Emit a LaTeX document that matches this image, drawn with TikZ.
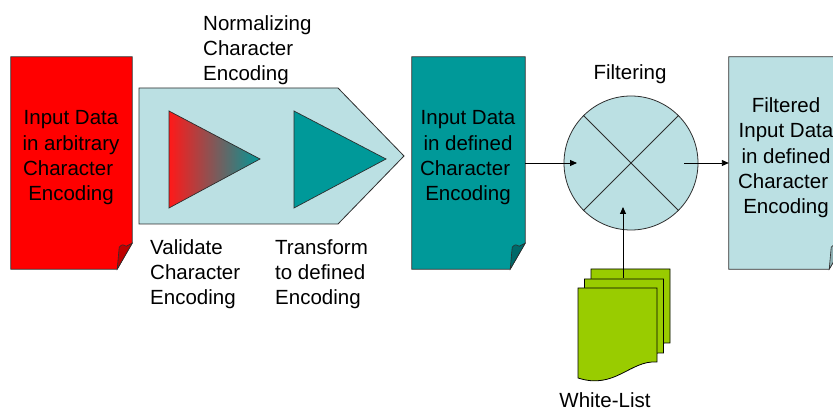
\documentclass[tikz,border=0pt]{standalone}
\usepackage{fontspec}
\setmainfont{Liberation Sans}
\usetikzlibrary{calc,arrows.meta}

\definecolor{docred}{RGB}{255,0,0}
\definecolor{foldred}{RGB}{190,0,0}
\definecolor{tealdoc}{RGB}{0,153,153}
\definecolor{foldteal}{RGB}{0,105,105}
\definecolor{paleblue}{RGB}{187,224,227}
\definecolor{foldblue}{RGB}{140,175,178}
\definecolor{leafgreen}{RGB}{153,204,0}
\definecolor{edgegray}{RGB}{45,45,45}
\definecolor{shadered}{RGB}{255,25,25}
\definecolor{shademid}{RGB}{222,95,95}

% document with a folded lower-right corner, drawn round a named node
\newcommand\foldeddoc[3]{%
  \path[fill=#2,draw=edgegray,line width=0.8pt]
    (#1.north west) -- (#1.north east) -- ($(#1.south east)+(0,-26)$)
    -- ($(#1.south east)+(-15,0)$) -- (#1.south west) -- cycle;
  \path[fill=#3,draw=edgegray,line width=0.6pt]
    ($(#1.south east)+(-15,0)$) -- ($(#1.south east)+(-13,-22)$)
    .. controls ($(#1.south east)+(-10,-25)$) .. ($(#1.south east)+(-6,-23)$)
    -- ($(#1.south east)+(0,-26)$) -- cycle;
}

% one page of the stacked white-list pile
\newcommand\listpage[2]{%
  \path[fill=leafgreen,draw=black,line width=0.8pt]
    (#1,#2) -- ++(79,0) -- ++(0,74)
    .. controls ++(-27,-2) and ++(37,12) .. ++(-79,16) -- cycle;
}

\begin{document}
\begin{tikzpicture}[x=1pt,y=-1pt,
  font=\fontsize{20.5}{25.3}\selectfont,
  docbody/.style={inner sep=0pt,align=center},
  lbl/.style={inner sep=0pt,align=left},
  conn/.style={draw=black,line width=0.9pt,-{Triangle[length=7pt,width=6pt]}}]

\useasboundingbox (0,0) rectangle (833,411);
\clip (0,0) rectangle (833,411);

% input document
\node[docbody,minimum width=121pt,minimum height=212pt] (rawdoc) at (71.5,163) {};
\foldeddoc{rawdoc}{docred}{foldred}
\node[docbody] (rawtxt) at (71,158) {Input Data\\in arbitrary\\Character\kern0.28em\\Encoding};

% normalization stage
\node[inner sep=0pt,minimum width=265pt,minimum height=136pt] (norm) at (271.5,156) {};
\path[fill=paleblue,draw=edgegray,line width=0.8pt]
  (139,88) -- (338,88) -- (404,156) -- (338,224) -- (139,224) -- cycle;
\shade[left color=shadered,middle color=shademid,right color=tealdoc]
  (169,111) -- (260,159) -- (169,208) -- cycle;
\draw[edgegray,line width=0.7pt] (169,111) -- (260,159) -- (169,208) -- cycle;
\path[fill=tealdoc,draw=edgegray,line width=0.7pt]
  (294,111) -- (386,159) -- (294,208) -- cycle;

\node[lbl,anchor=north west] (normlbl) at (203,15) {Normalizing\\Character\\Encoding};
\node[lbl,anchor=north west] (vallbl) at (150,239) {Validate\\Character\\Encoding};
\node[lbl,anchor=north west] (trlbl) at (275,239) {Transform\\to defined\\Encoding};

% normalized document
\node[docbody,minimum width=113pt,minimum height=212pt] (defdoc) at (468.5,163) {};
\foldeddoc{defdoc}{tealdoc}{foldteal}
\node[docbody] (deftxt) at (468,158) {Input Data\\in defined\\Character\kern0.28em\\Encoding};

% filter
\node[circle,fill=paleblue,draw=edgegray,line width=0.8pt,minimum size=134pt,inner sep=0pt]
  (filter) at (631,163) {};
\draw[edgegray,line width=0.8pt] (filter.135) -- (filter.-45);
\draw[edgegray,line width=0.8pt] (filter.45) -- (filter.-135);
\node (filtlbl) at (630,74) {Filtering};

% filtered document
\node[docbody,minimum width=115pt,minimum height=212pt] (outdoc) at (786.5,163) {};
\foldeddoc{outdoc}{paleblue}{foldblue}
\node[docbody] (outtxt) at (786,158) {Filtered\\Input Data\\in defined\\Character\kern0.28em\\Encoding};

% white-list pile
\listpage{591}{269}
\listpage{584.5}{279}
\listpage{578}{288}
\node[inner sep=0pt,minimum width=91pt,minimum height=113pt] (wlist) at (623.5,325) {};
\node (wllbl) at (605,400) {White-List};

% connectors
\coordinate (fin) at ($(filter.center)+(-54,0)$);
\coordinate (fout) at ($(filter.center)+(53,0)$);
\coordinate (fbot) at ($(filter.center)+(-8,44)$);
\coordinate (wltop) at (623,278);
\draw[conn] (defdoc.east) -- (fin);
\draw[conn] (fout) -- (outdoc.west);
\draw[conn] (wltop) -- (fbot);

\end{tikzpicture}
\end{document}
